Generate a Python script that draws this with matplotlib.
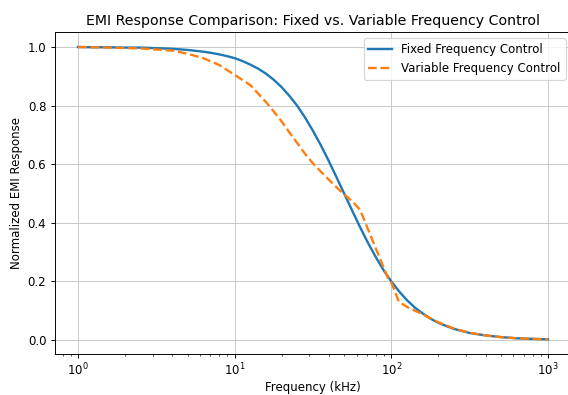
import matplotlib
matplotlib.use("Agg")
import matplotlib.pyplot as plt

# frequencies in kHz
freq_fixed = [1, 1.259, 1.585, 1.995, 2.512, 3.162, 3.981, 5.012, 5.623, 6.310, 7.079,
              7.943, 8.913, 10, 11.22, 12.59, 14.13, 15.85, 17.78, 19.95, 22.39,
              25.12, 28.18, 31.62, 35.48, 39.81, 44.67, 50.12, 56.23, 63.10, 70.79,
              79.43, 89.13, 100, 112.2, 125.9, 141.3, 158.5, 177.8, 199.5, 223.9,
              251.2, 316.2, 398.1, 501.2, 631.0, 794.3, 1000]
emi_fixed = [1.000, 0.999, 0.999, 0.998, 0.998, 0.996, 0.994, 0.990, 0.987, 0.984, 0.980,
             0.975, 0.969, 0.962, 0.952, 0.940, 0.926, 0.909, 0.888, 0.863, 0.833,
             0.799, 0.759, 0.714, 0.665, 0.612, 0.556, 0.499, 0.442, 0.386, 0.333,
             0.284, 0.239, 0.200, 0.166, 0.136, 0.111, 0.091, 0.073, 0.059, 0.048,
             0.038, 0.024, 0.016, 0.010, 0.006, 0.004, 0.0025]

freq_var = [1, 1.585, 2.512, 3.981, 5.012, 6.310, 7.943, 10, 12.59, 15.85,
            17.78, 19.95, 22.39, 25.12, 28.18, 31.62, 35.48, 39.81, 46.6, 56.7,
            63.1, 67.3, 74.3, 83.9, 94.8, 100, 112, 130, 150, 174,
            199.5, 251.2, 316.2, 398.1, 501.2, 631.0, 794.3, 1000]
emi_var = [1.000, 0.998, 0.995, 0.988, 0.977, 0.962, 0.939, 0.905, 0.870, 0.812,
           0.780, 0.746, 0.708, 0.672, 0.635, 0.603, 0.575, 0.548, 0.512, 0.472,
           0.445, 0.409, 0.352, 0.283, 0.214, 0.197, 0.130, 0.109, 0.094, 0.077,
           0.061, 0.039, 0.025, 0.016, 0.010, 0.006, 0.004, 0.0025]

plt.figure(figsize=(568 / 85, 395 / 85), dpi=85)
plt.semilogx(freq_fixed, emi_fixed, label="Fixed Frequency Control", linewidth=2)
plt.semilogx(freq_var, emi_var, "--", label="Variable Frequency Control", linewidth=2)
plt.title("EMI Response Comparison: Fixed vs. Variable Frequency Control")
plt.xlabel("Frequency (kHz)", labelpad=2)
plt.ylabel("Normalized EMI Response")
plt.grid(True, color="#c8c8c8")
plt.legend(loc="upper right")
# the reference is cropped just inside the right spine
plt.subplots_adjust(left=0.096, right=1.006, top=0.918, bottom=0.104)
plt.savefig("out.png")
